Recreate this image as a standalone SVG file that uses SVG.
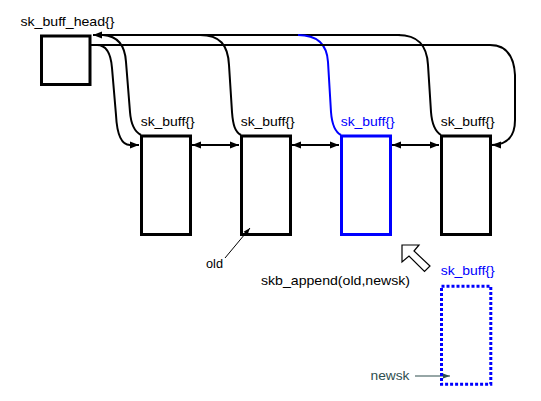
<svg xmlns="http://www.w3.org/2000/svg" width="541" height="401" viewBox="0 0 541 401">
<style>
text { font-family: "Liberation Sans", Arial, Helvetica, sans-serif; font-size: 13px; fill: #000; }
.blue { fill: #0000ff; }
.slate { fill: #2f4f4f; }
.box { fill: none; stroke: #000; stroke-width: 3; }
.bbox { fill: none; stroke: #0000ff; stroke-width: 3; }
.dbox { fill: none; stroke: #0000ff; stroke-width: 3; stroke-dasharray: 3 2; }
.c { fill: none; stroke: #000; stroke-width: 2; }
.cb { fill: none; stroke: #0000ff; stroke-width: 2; }
</style>
<defs>
<marker id="ah" markerUnits="userSpaceOnUse" markerWidth="10" markerHeight="8" viewBox="0 0 10 8" refX="9" refY="4" orient="auto-start-reverse">
<path d="M0,0.5 L9,4 L0,7.5 Z" fill="#000"/>
</marker>
<marker id="ahs" markerUnits="userSpaceOnUse" markerWidth="8" markerHeight="6" viewBox="0 0 8 6" refX="7" refY="3" orient="auto">
<path d="M0,0.5 L7,3 L0,5.5 Z" fill="#000"/>
</marker>
<marker id="ahg" markerUnits="userSpaceOnUse" markerWidth="8" markerHeight="6" viewBox="0 0 8 6" refX="7" refY="3" orient="auto">
<path d="M0,0.5 L7,3 L0,5.5 Z" fill="#2f4f4f"/>
</marker>
</defs>
<rect width="541" height="401" fill="#fff"/>

<g id="connectors">
<!-- list pointers from each skb to head (top line) -->
<path class="c" d="M 93 35 L 400 35" marker-start="url(#ah)"/>
<path class="c" d="M 398 35 C 418 35 427 45 428 65 L 431 112 C 432 125 436 132 441 135"/>
<path class="c" d="M 103 35 C 118 36 125 45 126 62 L 130 112 C 131 125 135 132 141 135"/>
<path class="c" d="M 200 35 C 220 35 228 45 229 65 L 232 112 C 233 125 235 132 241 135"/>
<path class="cb" d="M 298 35 C 318 35 327 45 328 62 L 331 112 C 332 125 335 132 341 135"/>
<!-- head next -->
<path class="c" d="M 91 45 L 97 45 C 107 45 111 55 112 68 L 116 115 C 117 135 122 145 130 145 L 139 145" marker-end="url(#ah)"/>
<!-- head prev -->
<path class="c" d="M 91 45 L 490 45 C 505 45 514 55 515 75 L 515 120 C 515 135 508 145 492 145" marker-end="url(#ah)"/>
<!-- next/prev between skbs -->
<path class="c" d="M 192 145 L 239 145" marker-start="url(#ah)" marker-end="url(#ah)"/>
<path class="c" d="M 292 145 L 339 145" marker-start="url(#ah)" marker-end="url(#ah)"/>
<path class="c" d="M 392 145 L 439 145" marker-start="url(#ah)" marker-end="url(#ah)"/>
<!-- old pointer -->
<path d="M 225 258 L 250 228" fill="none" stroke="#000" stroke-width="1" marker-end="url(#ahs)"/>
<!-- newsk pointer -->
<path d="M 415 376 L 450 376" fill="none" stroke="#2f4f4f" stroke-width="1.2" marker-end="url(#ahg)"/>
<!-- append hollow arrow -->
<polygon points="402,245 419,245 414,251 430,266 424.5,271.5 409,256 402,262" fill="#fff" stroke="#000" stroke-width="1.2"/>
</g>

<g id="head">
<rect class="box" x="41.5" y="36" width="48.5" height="48.5"/>
<text x="20.5" y="26" textLength="94" lengthAdjust="spacingAndGlyphs">sk_buff_head{}</text>
</g>
<g id="skb1">
<rect class="box" x="141.5" y="136" width="49" height="98.5"/>
<text x="140.7" y="126" textLength="54" lengthAdjust="spacingAndGlyphs">sk_buff{}</text>
</g>
<g id="skb2">
<rect class="box" x="241.5" y="136" width="49" height="98.5"/>
<text x="240.7" y="126" textLength="54" lengthAdjust="spacingAndGlyphs">sk_buff{}</text>
</g>
<g id="skb3">
<rect class="bbox" x="341.5" y="136" width="49" height="98.5"/>
<text class="blue" x="340.7" y="126" textLength="54" lengthAdjust="spacingAndGlyphs">sk_buff{}</text>
</g>
<g id="skb4">
<rect class="box" x="441.5" y="136" width="49" height="98.5"/>
<text x="440.7" y="126" textLength="54" lengthAdjust="spacingAndGlyphs">sk_buff{}</text>
</g>
<g id="newskb">
<rect class="dbox" x="441.5" y="286.3" width="49.3" height="98"/>
<text class="blue" x="440.7" y="275" textLength="54" lengthAdjust="spacingAndGlyphs">sk_buff{}</text>
</g>
<g id="labels">
<text x="206" y="268" textLength="17" lengthAdjust="spacingAndGlyphs">old</text>
<text x="261" y="285" textLength="149" lengthAdjust="spacingAndGlyphs">skb_append(old,newsk)</text>
<text class="slate" x="370.5" y="380" textLength="39" lengthAdjust="spacingAndGlyphs">newsk</text>
</g>
</svg>
